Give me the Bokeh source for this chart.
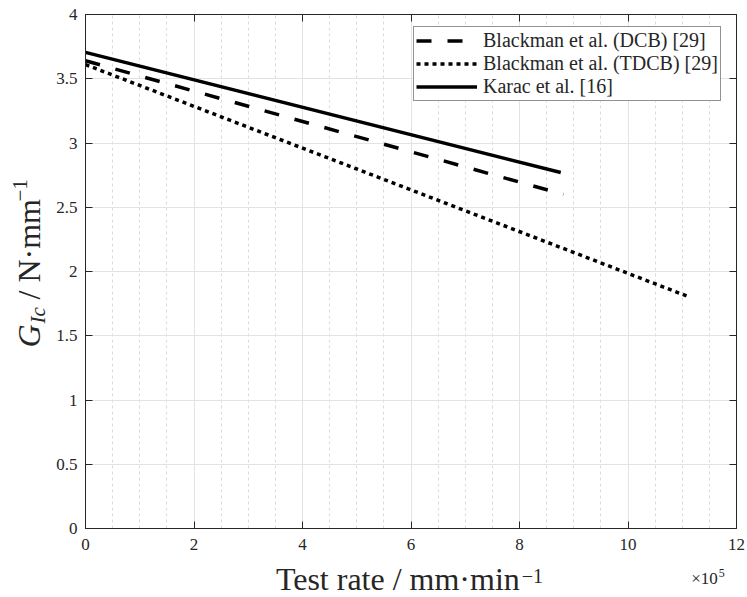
import math
from bokeh.plotting import figure
from bokeh.layouts import row, column
from bokeh.models import (Range1d, FixedTicker, LinearAxis, Legend, LegendItem,
                          CustomJSTickFormatter)
from bokeh.core.properties import value
from bokeh.embed import file_html
from bokeh.resources import INLINE

# ---- data (test rate in units of 1e5 mm/min, G_Ic in N/mm) ----
dcb_rate = [0.0, 8.81]
dcb_gic = [3.64, 2.60]
tdcb_rate = [0.0, 11.08]
tdcb_gic = [3.61, 1.81]
karac_rate = [0.0, 8.76]
karac_gic = [3.705, 2.77]

series_names = ["Blackman et al. (DCB) [29]", "Blackman et al. (TDCB) [29]", "Karac et al. [16]"]

x_ticks = [0, 2, 4, 6, 8, 10, 12]
x_minor = [v * 0.5 for v in range(0, 25) if v % 4 != 0]
y_ticks = [0, 0.5, 1, 1.5, 2, 2.5, 3, 3.5, 4]

FONT = "Liberation Serif"
AX = "#262626"
YLW = 50  # width of the y-label strip

# ---------------- main plot ----------------
p = figure(width=747 - YLW, height=560, output_backend="svg", toolbar_location=None,
           x_range=Range1d(0, 12), y_range=Range1d(0, 4),
           min_border_left=85 - YLW, min_border_top=14, min_border_right=11, min_border_bottom=32,
           background_fill_color="white", border_fill_color="white")
p.outline_line_color = AX
p.outline_line_width = 1

fmt = CustomJSTickFormatter(code="return tick.toString();")
blank = CustomJSTickFormatter(code="return '';")

xt = FixedTicker(ticks=x_ticks, minor_ticks=x_minor)
yt = FixedTicker(ticks=y_ticks, minor_ticks=[])

xa = p.below[0]
ya = p.left[0]
xa.ticker = xt
xa.formatter = fmt
ya.ticker = yt
ya.formatter = fmt

top = LinearAxis(ticker=xt, formatter=blank)
right = LinearAxis(ticker=yt, formatter=blank)
p.add_layout(top, "above")
p.add_layout(right, "right")

for ax in [xa, ya, top, right]:
    ax.axis_line_color = AX
    ax.axis_line_width = 1
    ax.major_tick_in = 7
    ax.major_tick_out = 0
    ax.major_tick_line_color = AX
    ax.minor_tick_in = 0
    ax.minor_tick_out = 0
    ax.major_label_text_font = FONT
    ax.major_label_text_font_size = "17px"
    ax.major_label_text_color = AX
for ax in [top, right]:
    ax.major_label_standoff = 0
    ax.major_label_text_font_size = "8px"
xa.major_label_standoff = 10
ya.major_label_standoff = 8

p.xgrid.ticker = xt
p.ygrid.ticker = yt
p.xgrid.grid_line_color = "#e3e3e3"
p.ygrid.grid_line_color = "#e3e3e3"
p.xgrid.minor_grid_line_color = "#dadada"
p.xgrid.minor_grid_line_dash = "3 3"
p.ygrid.minor_grid_line_color = None

r1 = p.line(dcb_rate, dcb_gic, line_color="black", line_width=3.5, line_dash="15 16")
r2 = p.line(tdcb_rate, tdcb_gic, line_color="black", line_width=3.5, line_dash="4 4")
r3 = p.line(karac_rate, karac_gic, line_color="black", line_width=3.5)

legend = Legend(items=[LegendItem(label=series_names[0], renderers=[r1]),
                       LegendItem(label=series_names[1], renderers=[r2]),
                       LegendItem(label=series_names[2], renderers=[r3])],
                location=(328, 427))
legend.label_text_font = FONT
legend.label_text_font_size = "20px"
legend.label_text_color = AX
legend.glyph_width = 61
legend.glyph_height = 21
legend.label_height = 21
legend.label_standoff = 6
legend.spacing = 0
legend.padding = 2
legend.margin = 0
legend.border_line_color = AX
legend.border_line_width = 1
legend.background_fill_color = "white"
legend.background_fill_alpha = 1
p.add_layout(legend, "center")


def label_fig(w, h):
    f = figure(width=w, height=h, output_backend="svg", toolbar_location=None,
               x_range=Range1d(0, w), y_range=Range1d(0, h),
               x_axis_type=None, y_axis_type=None, min_border=0,
               background_fill_color="white", border_fill_color="white")
    f.outline_line_color = None
    f.grid.visible = False
    return f


def txt(f, s, x, y, size, align, angle=0.0, style="normal"):
    f.text(x=[x], y=[y], text=[s], angle=angle, text_font=value(FONT),
           text_font_size=value(size), text_font_style=style, text_color=AX,
           text_align=align, text_baseline="alphabetic")


# ---------------- y-axis label: G_Ic / N·mm^-1 ----------------
yl = label_fig(YLW, 560)
A = math.pi / 2
txt(yl, "G", 28, 213, "32px", "left", A, "italic")
txt(yl, "Ic", 37, 237, "21px", "left", A, "italic")
txt(yl, "/ N·mm", 28, 261, "32px", "left", A)
txt(yl, "−1", 19, 359, "21px", "left", A)

# ---------------- x-axis label: Test rate / mm·min^-1 and ×10^5 ----------------
xl = label_fig(747 - YLW, 37)
txt(xl, "Test rate / mm·min", 515 - YLW, 19, "32px", "right")
txt(xl, "−1", 517 - YLW, 22, "20px", "left")
txt(xl, "×10", 727 - YLW, 19, "17px", "right")
txt(xl, "5", 728 - YLW, 25, "12px", "left")

layout = row(yl, column(p, xl, spacing=0), spacing=0)
open("out.html", "w").write(file_html(layout, INLINE))
